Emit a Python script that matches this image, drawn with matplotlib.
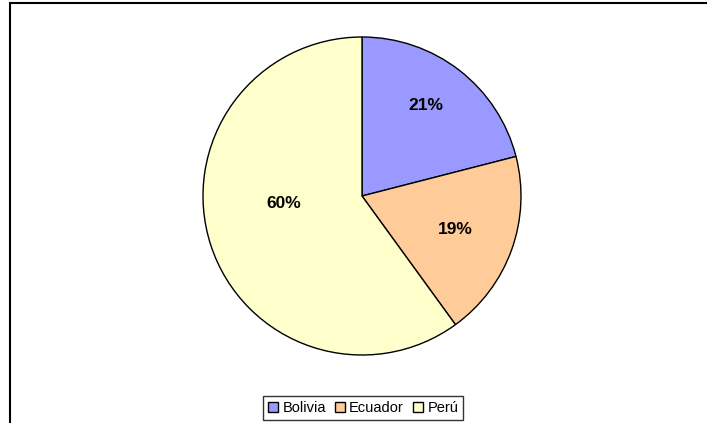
import matplotlib.pyplot as plt
from matplotlib.patches import Rectangle

## Data
countries = ['Bolivia', 'Ecuador', 'Perú']
shares = [21, 19, 60]
colors = ['#9999FF', '#FFCC99', '#FFFFCC']
# label positions in units of pie radius (Excel-style placement)
label_pos = [(0.40, 0.57), (0.585, -0.21), (-0.49, -0.05)]

plt.rcParams['font.family'] = ['Liberation Sans', 'DejaVu Sans']

fig = plt.figure(figsize=(7.07, 4.23), dpi=100)

# outer chart border (cropped at the right and bottom)
fig.patches.append(Rectangle((9.5 / 707, -0.05), 1.2, 1 - 3.5 / 423 + 0.05,
                             transform=fig.transFigure, fill=False,
                             edgecolor='black', linewidth=1.5))

ax = fig.add_axes([203 / 707, 68 / 423, 318 / 707, 318 / 423])
wedges, texts = ax.pie(shares, colors=colors, startangle=90, counterclock=False,
                       radius=1.0, wedgeprops=dict(edgecolor='black', linewidth=1.0))
ax.set_xlim(-1, 1)
ax.set_ylim(-1, 1)
ax.set_aspect('equal')
ax.axis('off')

for s, (x, y) in zip(shares, label_pos):
    ax.text(x, y, f'{s}%', ha='center', va='center', fontsize=12.5, fontweight='bold')

leg = fig.legend(wedges, countries, loc='center', bbox_to_anchor=(363 / 707, 1 - 408 / 423),
                 ncol=3, fontsize=10.5, frameon=True, fancybox=False, handlelength=0.7,
                 handleheight=0.7, handletextpad=0.3, columnspacing=0.6,
                 borderpad=0.35, edgecolor='black')
leg.get_frame().set_linewidth(1.0)

fig.savefig('out.png', dpi=100)
